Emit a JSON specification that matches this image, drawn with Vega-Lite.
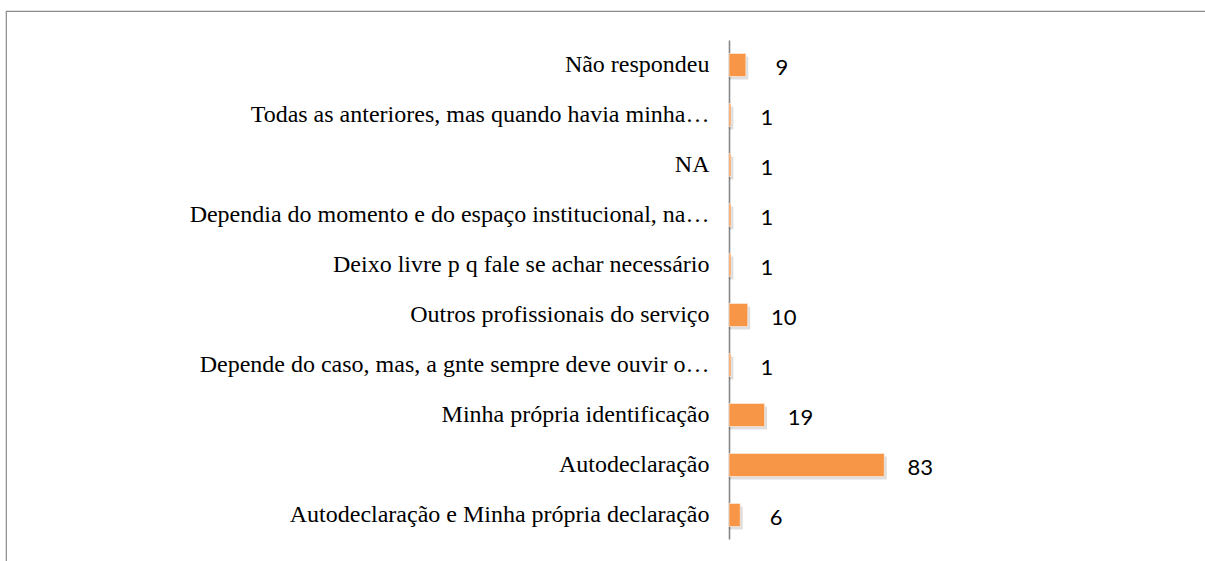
{
  "$schema": "https://vega.github.io/schema/vega-lite/v6.json",
  "autosize": "none",
  "width": 1199,
  "height": 550,
  "padding": {"left": 6, "top": 11, "right": 0, "bottom": 0},
  "background": "#ffffff",
  "config": {
    "view": {"stroke": "#898989", "strokeWidth": 1.2, "strokeDash": [1199, 1749, 550, 0]}
  },
  "data": {
    "values": [
      {"cat": "Não respondeu", "value": 9},
      {"cat": "Todas as anteriores, mas quando havia minha…", "value": 1},
      {"cat": "NA", "value": 1},
      {"cat": "Dependia do momento e do espaço institucional, na…", "value": 1},
      {"cat": "Deixo livre p q fale se achar necessário", "value": 1},
      {"cat": "Outros profissionais do serviço", "value": 10},
      {"cat": "Depende do caso, mas, a gnte sempre deve ouvir o…", "value": 1},
      {"cat": "Minha própria identificação", "value": 19},
      {"cat": "Autodeclaração", "value": 83},
      {"cat": "Autodeclaração e Minha própria declaração", "value": 6}
    ]
  },
  "encoding": {
    "y": {
      "field": "cat",
      "type": "nominal",
      "sort": null,
      "scale": {"paddingInner": 0.54, "paddingOuter": 0.77, "align": 0.552},
      "axis": {
        "title": null,
        "orient": "left",
        "offset": -723,
        "ticks": false,
        "tickSize": 0,
        "labelPadding": 20,
        "labelFont": "Liberation Serif",
        "labelFontSize": 24,
        "labelColor": "#000000",
        "labelLimit": 0,
        "domain": true,
        "domainColor": "#888888",
        "domainWidth": 1.6,
        "domainDash": [0, 29, 499, 1000],
        "grid": false
      }
    }
  },
  "layer": [
    {
      "mark": {"type": "bar", "color": "#000000", "opacity": 0.13, "xOffset": 2.5, "yOffset": 3},
      "encoding": {
        "x": {"field": "value", "type": "quantitative", "scale": {"domain": [-386.6, 254.5], "zero": false, "nice": false}, "axis": null},
        "x2": {"datum": 0}
      }
    },
    {
      "mark": {"type": "bar", "color": "#F79646", "stroke": "#fdf0e6", "strokeWidth": 0.6},
      "encoding": {
        "x": {"field": "value", "type": "quantitative"},
        "x2": {"datum": 0}
      }
    },
    {
      "mark": {"type": "text", "dx": 36, "dy": 3, "align": "center", "baseline": "middle", "font": "Lato", "fontSize": 22, "color": "#000000"},
      "encoding": {
        "x": {"field": "value", "type": "quantitative"},
        "text": {"field": "value", "type": "quantitative"}
      }
    }
  ]
}
